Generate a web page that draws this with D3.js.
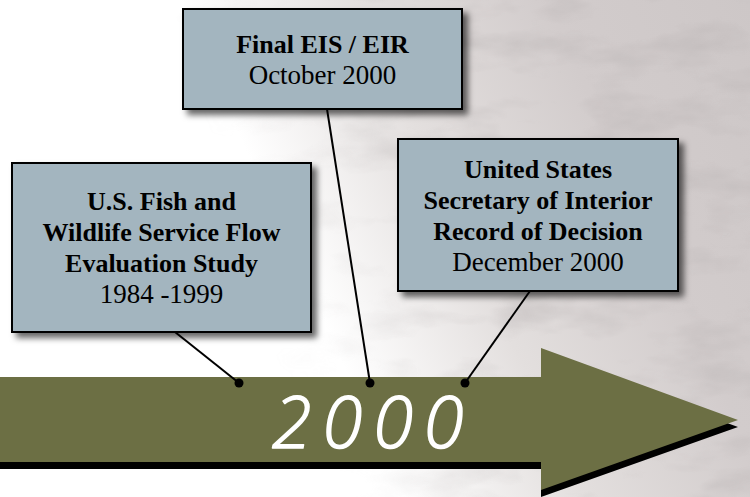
<!DOCTYPE html>
<html>
<head>
<meta charset="utf-8">
<script src="https://cdnjs.cloudflare.com/ajax/libs/d3/7.8.5/d3.min.js"></script>
<style>
body { margin: 0; background: #fff; }
svg { display: block; }
</style>
</head>
<body>
<svg id="chart" width="750" height="497"></svg>
<script>

// timeline events
var eventKeys = ["study", "eis", "rod"];
var eventTitles = [
    ["U.S. Fish and", "Wildlife Service Flow", "Evaluation Study"],
    ["Final EIS / EIR"],
    ["United States", "Secretary of Interior", "Record of Decision"]
];
var eventDates = ["1984 -1999", "October 2000", "December 2000"];
var yearLabel = "2000";

var svg = d3.select("#chart"),
    width = +svg.attr("width"),
    height = +svg.attr("height");

// where each event sits on the arrow
var x = d3.scaleOrdinal()
    .domain(eventKeys)
    .range([239, 370, 465]);

// callout boxes: [x0, y0, x1, y1]
var boxes = {
    study: [12, 163, 311, 332],
    eis: [183, 9, 462, 109],
    rod: [398, 139, 678, 291]
};
// where the leader line leaves each box
var anchorX = { study: 175, eis: 327, rod: 530 };

var serif = "'Liberation Serif', 'Times New Roman', serif";

var defs = svg.append("defs");

var bg = defs.append("linearGradient")
    .attr("id", "bg")
    .attr("x1", "0").attr("y1", "0.3")
    .attr("x2", "1").attr("y2", "0");
bg.append("stop").attr("offset", "0").attr("stop-color", "#ffffff");
bg.append("stop").attr("offset", "0.3").attr("stop-color", "#ffffff");
bg.append("stop").attr("offset", "0.52").attr("stop-color", "#e3dfde");
bg.append("stop").attr("offset", "0.75").attr("stop-color", "#d2cccc");
bg.append("stop").attr("offset", "1").attr("stop-color", "#cdc7c7");

var noise = defs.append("filter").attr("id", "noise")
    .attr("x", 0).attr("y", 0).attr("width", "100%").attr("height", "100%");
noise.append("feTurbulence")
    .attr("type", "fractalNoise")
    .attr("baseFrequency", "0.012 0.03")
    .attr("numOctaves", 4)
    .attr("seed", 7);
noise.append("feColorMatrix")
    .attr("values", "0 0 0 0 0.45  0 0 0 0 0.42  0 0 0 0 0.42  0 0 0 1.6 -0.75");
noise.append("feComposite").attr("in2", "SourceGraphic").attr("operator", "in");

var fade = defs.append("linearGradient")
    .attr("id", "fade")
    .attr("x1", "0").attr("y1", "0.2")
    .attr("x2", "1").attr("y2", "0");
fade.append("stop").attr("offset", "0.25").attr("stop-color", "#fff").attr("stop-opacity", 0);
fade.append("stop").attr("offset", "0.6").attr("stop-color", "#fff").attr("stop-opacity", 1);
defs.append("mask").attr("id", "fadeMask")
    .append("rect").attr("width", width).attr("height", height).attr("fill", "url(#fade)");

var shadow = defs.append("filter").attr("id", "shadow")
    .attr("x", "-10%").attr("y", "-10%").attr("width", "130%").attr("height", "130%");
shadow.append("feDropShadow")
    .attr("dx", 5).attr("dy", 5)
    .attr("stdDeviation", 3)
    .attr("flood-color", "#000")
    .attr("flood-opacity", 0.6);

// background photo wash
svg.append("rect")
    .attr("width", width).attr("height", height)
    .attr("fill", "url(#bg)");
svg.append("rect")
    .attr("width", width).attr("height", height)
    .attr("fill", "#fff")
    .attr("filter", "url(#noise)")
    .attr("mask", "url(#fadeMask)")
    .attr("opacity", 0.55);

// arrow
var shaftTop = 377, shaftBottom = 462, headX = 541, headTop = 348, headBottom = 490, tipX = 738, tipY = 420;
var arrowPts = [
    [0, shaftTop], [headX, shaftTop], [headX, headTop], [tipX, tipY],
    [headX, headBottom], [headX, shaftBottom], [0, shaftBottom]
];
var line = d3.line();

svg.append("path")
    .attr("d", line(arrowPts) + "Z")
    .attr("transform", "translate(0,7)")
    .attr("fill", "#000");
svg.append("path")
    .attr("d", line(arrowPts) + "Z")
    .attr("fill", "#6c6f44");

svg.append("text")
    .attr("x", 272)
    .attr("y", 448)
    .attr("font-family", "'Open Sans', 'DejaVu Sans', sans-serif")
    .attr("font-style", "italic")
    .attr("font-weight", 300)
    .attr("font-size", 72)
    .attr("letter-spacing", 11)
    .attr("fill", "#fff")
    .attr("stroke", "#fff")
    .attr("stroke-width", 1.5)
    .attr("stroke-linejoin", "round")
    .text(yearLabel);

// leader lines and dots
var dotY = 383;
var events = eventKeys.map(function(k, i) {
    return { key: k, title: eventTitles[i], date: eventDates[i] };
});

svg.selectAll(".leader")
    .data(events)
    .join("line")
    .attr("class", "leader")
    .attr("x1", function(d) { return anchorX[d.key]; })
    .attr("y1", function(d) { return boxes[d.key][3]; })
    .attr("x2", function(d) { return x(d.key); })
    .attr("y2", dotY)
    .attr("stroke", "#000")
    .attr("stroke-width", 2);

svg.selectAll(".dot")
    .data(events)
    .join("circle")
    .attr("class", "dot")
    .attr("cx", function(d) { return x(d.key); })
    .attr("cy", dotY)
    .attr("r", 4.5)
    .attr("fill", "#000");

// callout boxes
var g = svg.selectAll(".callout")
    .data(events)
    .join("g")
    .attr("class", "callout");

g.append("rect")
    .attr("x", function(d) { return boxes[d.key][0]; })
    .attr("y", function(d) { return boxes[d.key][1]; })
    .attr("width", function(d) { return boxes[d.key][2] - boxes[d.key][0]; })
    .attr("height", function(d) { return boxes[d.key][3] - boxes[d.key][1]; })
    .attr("fill", "#a3b5bf")
    .attr("stroke", "#000")
    .attr("stroke-width", 2)
    .attr("filter", "url(#shadow)");

var lineH = 31;
g.each(function(d) {
    var b = boxes[d.key];
    var cx = (b[0] + b[2]) / 2;
    var lines = d.title.length + 1;
    var firstBase = (b[1] + b[3]) / 2 - (lines - 1) * lineH / 2 + 9;
    var t = d3.select(this);
    d.title.forEach(function(s, i) {
        t.append("text")
            .attr("x", cx)
            .attr("y", firstBase + i * lineH)
            .attr("text-anchor", "middle")
            .attr("font-family", serif)
            .attr("font-weight", "bold")
            .attr("font-size", 26)
            .attr("fill", "#000")
            .text(s);
    });
    t.append("text")
        .attr("x", cx)
        .attr("y", firstBase + d.title.length * lineH)
        .attr("text-anchor", "middle")
        .attr("font-family", serif)
        .attr("font-size", 27)
        .attr("fill", "#000")
        .text(d.date);
});

</script>
</body>
</html>
